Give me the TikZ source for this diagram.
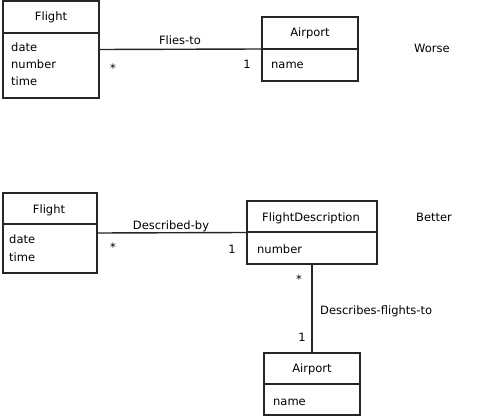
\documentclass[tikz,border=0pt]{standalone}
\usepackage{fontspec}
\setmainfont{DejaVu Sans}
\begin{document}
\begin{tikzpicture}[x=1pt,y=-1pt,
  every node/.style={font=\fontsize{11.5}{13}\selectfont, text=black},
  cls/.style={draw=black!85, line width=1.4pt, fill=none, inner sep=0pt, outer sep=0pt, rectangle},
  conn/.style={draw=black!85, line width=1.4pt},
  div/.style={draw=black!85, line width=1.4pt},
  lbl/.style={inner sep=0pt, anchor=base},
  attr/.style={inner sep=0pt, anchor=base west},
  mult/.style={inner sep=0pt}]
\useasboundingbox (0,0) rectangle (482,417);
% ---- Worse ----
\node[cls, minimum width=96pt, minimum height=97pt] (f1) at (51,49.5) {};
\draw[div] (3,33) -- (99,33);
\node[lbl] (f1t) at (51,21) {Flight};
\node[attr] (f1a) at (11,52) {date};
\node[attr] (f1b) at (11,69) {number};
\node[attr] (f1c) at (11,86) {time};
\node[cls, minimum width=96pt, minimum height=64pt] (a1) at (310,49) {};
\draw[div] (262,49) -- (358,49);
\node[lbl] (a1t) at (310,37) {Airport};
\node[attr] (a1a) at (271,69) {name};
\draw[conn] (f1.east) -- (a1.west);
\node[lbl] (l1) at (180,45) {Flies-to};
\node[mult] (m1) at (113,68) {*};
\node[lbl] (m2) at (247,69) {1};
\node[lbl] (w) at (432,53) {Worse};
% ---- Better ----
\node[cls, minimum width=94pt, minimum height=80pt] (f2) at (50,233) {};
\draw[div] (3,224) -- (97,224);
\node[lbl] (f2t) at (49,213) {Flight};
\node[attr] (f2a) at (9,243) {date};
\node[attr] (f2b) at (9,261) {time};
\node[cls, minimum width=130pt, minimum height=63pt] (fd) at (312,232.5) {};
\draw[div] (247,232) -- (377,232);
\node[lbl] (fdt) at (311,221) {FlightDescription};
\node[attr] (fda) at (257,253) {number};
\node[lbl] (b) at (434,221) {Better};
\node[cls, minimum width=96pt, minimum height=62pt] (a2) at (312,384) {};
\draw[div] (264,384) -- (360,384);
\node[lbl] (a2t) at (312,372) {Airport};
\node[attr] (a2a) at (273,405) {name};
\draw[conn] (f2.east) -- (fd.west);
\draw[conn] (fd.south) -- (a2.north);
\node[lbl] (l2) at (171,229) {Described-by};
\node[mult] (m3) at (113,247) {*};
\node[lbl] (m4) at (232,253) {1};
\node[mult] (m5) at (299,279) {*};
\node[attr] (l3) at (320,314) {Describes-flights-to};
\node[lbl] (m6) at (302,341) {1};
\end{tikzpicture}
\end{document}
